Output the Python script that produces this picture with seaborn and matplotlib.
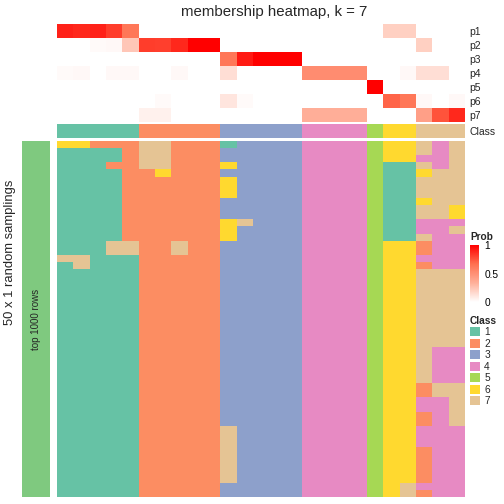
import numpy as np
import pandas as pd
import matplotlib
matplotlib.use("Agg")
import matplotlib.pyplot as plt
import seaborn as sns
from matplotlib.colors import ListedColormap, LinearSegmentedColormap
from matplotlib.patches import Patch

# membership probabilities of the 25 samples for each of the 7 classes
p1 = [0.90, 0.88, 0.90, 0.82, 0.63, 0, 0, 0, 0, 0, 0, 0, 0, 0, 0, 0, 0, 0, 0, 0, 0.20, 0.20, 0, 0, 0]
p2 = [0, 0, 0.02, 0.03, 0.24, 0.82, 0.81, 0.88, 1.0, 1.0, 0, 0, 0, 0, 0, 0, 0, 0, 0, 0, 0, 0, 0.20, 0, 0]
p3 = [0, 0, 0, 0, 0, 0, 0, 0, 0, 0, 0.63, 0.92, 1.0, 1.0, 1.0, 0, 0, 0, 0, 0, 0, 0, 0, 0, 0]
p4 = [0.02, 0.03, 0, 0.03, 0.03, 0, 0, 0.03, 0, 0, 0.14, 0, 0, 0, 0, 0.52, 0.52, 0.52, 0.52, 0, 0, 0.03, 0.14, 0.14, 0]
p5 = [0, 0, 0, 0, 0, 0, 0, 0, 0, 0, 0, 0, 0, 0, 0, 0, 0, 0, 0, 1.0, 0, 0, 0, 0, 0]
p6 = [0, 0, 0, 0, 0, 0, 0.02, 0, 0, 0, 0.11, 0.02, 0, 0, 0, 0, 0, 0, 0, 0, 0.70, 0.63, 0.03, 0, 0.03]
p7 = [0, 0, 0, 0, 0, 0.06, 0.06, 0, 0, 0, 0, 0, 0, 0, 0, 0.34, 0.34, 0.34, 0.34, 0, 0, 0, 0.42, 0.75, 0.88]
sample_class = [1, 1, 1, 1, 1, 2, 2, 2, 2, 2, 3, 3, 3, 3, 3, 4, 4, 4, 4, 5, 6, 6, 7, 7, 7]

# class assigned to each sample in each of the 50 random samplings
sampling_rows = (
    ["6622277222133334444566747",
     "1111277222333334444566747",
     "1111277222333334444566447",
     "1112277222633334444511747",
     "1111226222333334444511677"]
    + ["1111222222633334444511777"] * 3
    + ["1111222222333334444511677"]
    + ["1111222222333334444511776"] * 2
    + ["1111222222673334444511444",
       "1111222222633334444511447",
       "1111222222633334444511744"]
    + ["1117722722333334444566244"] * 2
    + ["7711122222333334444566444",
       "1711122222333334444566244"]
    + ["1111122222333334444566777"] * 11
    + ["1111122222333334444566744"] * 5
    + ["1111122222333334444566277"] * 2
    + ["1111122222333334444566447"] * 2
    + ["1111122222333334444566247"] * 2
    + ["1111122222733334444566444"] * 3
    + ["1111122222733334444566244"] * 5
    + ["1111122222333334444567444",
       "1111122222333334444567244"]
)

class_labels = ["1", "2", "3", "4", "5", "6", "7"]
class_colors = ["#66C2A5", "#FC8D62", "#8DA0CB", "#E78AC3", "#A6D854", "#FFD92F", "#E5C494"]
prob_labels = ["p1", "p2", "p3", "p4", "p5", "p6", "p7"]

sns.set_style("white")
plt.rcParams["font.family"] = ["Liberation Sans", "DejaVu Sans"]

prob_df = pd.DataFrame([p1, p2, p3, p4, p5, p6, p7], index=prob_labels)
class_df = pd.DataFrame([sample_class], index=["Class"])
member_df = pd.DataFrame([[int(c) for c in row] for row in sampling_rows])

prob_cmap = LinearSegmentedColormap.from_list(
    "prob", [(0, "#FFFFFF"), (1 / 3, "#FFB09A"), (2 / 3, "#FF7050"), (1, "#FF0000")])
class_cmap = ListedColormap(class_colors)

W = 504.0
fig = plt.figure(figsize=(5.04, 5.04), dpi=100)


def box(x0, y0, x1, y1):
    # pixel box (from the top left) -> figure fraction rect
    return [x0 / W, 1 - y1 / W, (x1 - x0) / W, (y1 - y0) / W]


ax_prob = fig.add_axes(box(57, 24, 465, 122))
ax_cls = fig.add_axes(box(57, 124, 465, 138))
ax_main = fig.add_axes(box(57, 141, 465, 497))
ax_side = fig.add_axes(box(22, 141, 50, 497))
cax = fig.add_axes(box(470, 245, 479, 302))

sns.heatmap(prob_df, ax=ax_prob, cmap=prob_cmap, vmin=0, vmax=1,
            cbar=True, cbar_ax=cax, xticklabels=False, yticklabels=True)
sns.heatmap(class_df, ax=ax_cls, cmap=class_cmap, vmin=0.5, vmax=7.5,
            cbar=False, xticklabels=False, yticklabels=True)
sns.heatmap(member_df, ax=ax_main, cmap=class_cmap, vmin=0.5, vmax=7.5,
            cbar=False, xticklabels=False, yticklabels=False)

for ax in (ax_prob, ax_cls):
    ax.yaxis.tick_right()
    ax.tick_params(axis="y", length=0, pad=3, labelsize=7.5, labelrotation=0)
    ax.set_ylabel("")
ax_main.set_ylabel("")

# left annotation bar
ax_side.set_facecolor("#7FC97F")
ax_side.set_xticks([])
ax_side.set_yticks([])
for s in ax_side.spines.values():
    s.set_visible(False)
ax_side.text(0.5, 0.5, "top 1000 rows", rotation=90, ha="center", va="center",
             fontsize=7, transform=ax_side.transAxes)

# colour bar legend
cax.set_yticks([0, 0.5, 1])
cax.set_yticklabels(["0", "0.5", "1"])
cax.tick_params(axis="y", direction="in", colors="white", length=2.5, width=0.8,
                left=True, right=True, labelcolor="black", labelsize=7.3, pad=4)
for s in cax.spines.values():
    s.set_visible(False)
fig.text(470 / W, 1 - 237 / W, "Prob", fontsize=7.3, fontweight="bold", va="center")

handles = [Patch(facecolor=c, edgecolor="none") for c in class_colors]
leg = fig.legend(handles, class_labels, loc="upper left",
                 bbox_to_anchor=(470 / W, 1 - 316 / W), frameon=False,
                 fontsize=7.3, title="Class", title_fontproperties={"weight": "bold", "size": 7.3},
                 handlelength=1.0, handleheight=1.0, handletextpad=0.4,
                 labelspacing=0.14, borderpad=0, borderaxespad=0, alignment="left")

fig.text(274 / W, 1 - 12 / W, "membership heatmap, k = 7", ha="center", va="center", fontsize=10.8)
fig.text(10 / W, 1 - 252 / W, "50 x 1 random samplings", rotation=90, ha="center", va="center",
         fontsize=9.4)

fig.savefig("out.png", dpi=100)
